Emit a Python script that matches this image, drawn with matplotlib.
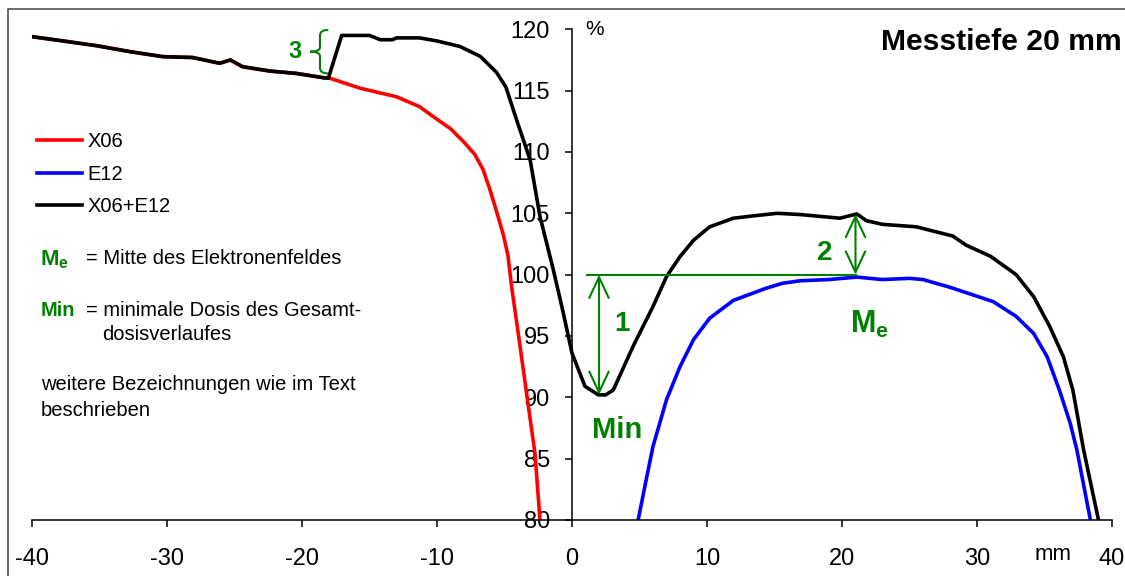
import matplotlib
matplotlib.use("Agg")
import matplotlib.pyplot as plt
from matplotlib.path import Path
from matplotlib.patches import PathPatch
from matplotlib.lines import Line2D

plt.rcParams['font.family'] = ['Liberation Sans', 'DejaVu Sans']
plt.rcParams['axes.unicode_minus'] = False
plt.rcParams['mathtext.fontset'] = 'custom'
plt.rcParams['mathtext.rm'] = 'Liberation Sans'
plt.rcParams['mathtext.bf'] = 'Liberation Sans:bold'

# Daten
x06_x = [-40, -37.7, -35.2, -32.7, -30.3, -28.1, -26.1, -25.3, -24.4, -22.4, -20.4, -18.4,
         -17.9, -15.7, -13.0, -11.3, -10.3, -9.0, -8.0, -7.2, -6.6, -6.1, -5.6, -5.1, -4.75,
         -4.47, -3.98, -3.36, -2.74, -2.37, -2.2]
x06_y = [119.4, 119.05, 118.66, 118.17, 117.77, 117.7, 117.23, 117.5, 116.95, 116.6, 116.4, 116.05,
         116.0, 115.2, 114.5, 113.7, 112.9, 111.9, 110.8, 109.8, 108.6, 107.0, 105.2, 103.3, 101.6,
         99.0, 95.2, 90.3, 85.4, 80.0, 78.0]

e12_x = [4.6, 4.9, 5.5, 6.0, 7.0, 8.0, 9.0, 10.2, 11.95, 14.4, 15.6, 16.9, 19.0, 21.1, 23.0,
         25.0, 26.0, 28.0, 29.7, 31.2, 32.9, 34.2, 35.2, 36.1, 36.9, 37.4, 38.4, 38.7]
e12_y = [78.0, 80.0, 83.3, 86.0, 89.8, 92.5, 94.7, 96.45, 97.9, 98.9, 99.3, 99.5, 99.6, 99.8, 99.6,
         99.7, 99.6, 98.97, 98.35, 97.8, 96.6, 95.2, 93.3, 90.6, 87.9, 85.7, 80.0, 78.0]

sum_x = [-40, -37.7, -35.2, -32.7, -30.3, -28.1, -26.1, -25.3, -24.4, -22.4, -20.4, -18.4, -18.05,
         -17.06, -15.0, -14.2, -13.3, -13.0, -11.3, -10.0, -8.3, -6.8, -5.6, -4.9, -4.1, -3.1,
         -2.37, -1.38, -0.64, 0.0, 0.96, 1.95, 2.5, 3.06, 4.5, 6.0, 7.0, 8.0, 9.0, 10.2, 11.95,
         13.5, 15.2, 16.9, 19.85, 21.1, 21.8, 23.0, 25.5, 27.3, 28.2, 29.2, 31.0, 32.9, 34.2,
         35.4, 36.4, 37.1, 37.9, 39.0, 39.3]
sum_y = [119.4, 119.05, 118.66, 118.17, 117.77, 117.7, 117.23, 117.5, 116.95, 116.6, 116.4, 116.05, 116.0,
         119.5, 119.5, 119.15, 119.15, 119.3, 119.3, 119.05, 118.6, 117.8, 116.5, 115.3, 112.6, 109.35,
         104.73, 100.38, 96.85, 93.6, 90.9, 90.2, 90.2, 90.6, 94.1, 97.4, 99.84, 101.47, 102.8, 103.9, 104.6,
         104.8, 105.0, 104.9, 104.6, 104.95, 104.4, 104.1, 103.9, 103.4, 103.15, 102.4, 101.5, 100.0, 98.2,
         95.75, 93.3, 90.6, 85.7, 80.0, 78.0]

x_ticks = [-40, -30, -20, -10, 0, 10, 20, 30, 40]
y_ticks = [80, 85, 90, 95, 100, 105, 110, 115, 120]

# Markierungen
ref_level = 100
min_x, min_y = 2.0, 90.2
me_x, me_y = 21.0, 104.95
step_x, step_lo, step_hi = -18.05, 116.4, 119.95

green = '#008000'

fig = plt.figure(figsize=(11.25, 5.76), dpi=100)
ax = fig.add_axes([32 / 1125, 56 / 576, 1080 / 1125, 490.7 / 576])

ax.plot(x06_x, x06_y, color='#ff0000', lw=2.6, label='X06')
ax.plot(e12_x, e12_y, color='#0000ff', lw=2.6, label='E12')
ax.plot(sum_x, sum_y, color='black', lw=2.6, label='X06+E12')

ax.set_xlim(-40, 40)
ax.set_ylim(80, 120)
ax.set_xticks(x_ticks)
ax.set_yticks(y_ticks)
ax.spines['top'].set_visible(False)
ax.spines['right'].set_visible(False)
ax.spines['left'].set_position(('data', 0))
ax.spines['left'].set_linewidth(1.1)
ax.spines['bottom'].set_linewidth(1.1)
ax.tick_params(axis='x', direction='out', length=5, width=1.1, pad=15, labelsize=17)
ax.tick_params(axis='y', direction='out', length=5, width=1.1, pad=11, labelsize=17)

# gruene Markierungen
ax.plot([1.1, me_x], [ref_level, ref_level], color=green, lw=1.5)
arrow = dict(arrowstyle='<->,head_length=0.75,head_width=0.35', color=green, lw=1.5,
             shrinkA=0, shrinkB=0, mutation_scale=20)
ax.annotate('', xy=(min_x, min_y), xytext=(min_x, ref_level), arrowprops=arrow)
ax.annotate('', xy=(me_x, me_y), xytext=(me_x, ref_level), arrowprops=arrow)

# geschweifte Klammer bei "3"
xv = step_x - 0.62
xt = step_x - 1.35
ym = (step_lo + step_hi) / 2
verts = [(step_x, step_hi), (xv, step_hi), (xv, step_hi - 0.45), (xv, ym + 0.35),
         (xv, ym), (xt, ym), (xv, ym), (xv, ym - 0.35), (xv, step_lo + 0.45),
         (xv, step_lo), (step_x, step_lo)]
codes = [Path.MOVETO, Path.CURVE3, Path.CURVE3, Path.LINETO, Path.CURVE3, Path.CURVE3,
         Path.CURVE3, Path.CURVE3, Path.LINETO, Path.CURVE3, Path.CURVE3]
ax.add_patch(PathPatch(Path(verts, codes), fill=False, edgecolor=green, lw=1.5))

ax.text(-20.5, ym, '3', color=green, fontsize=17, fontweight='bold', ha='center', va='center')
ax.text(3.7, 96.0, '1', color=green, fontsize=20, fontweight='bold', ha='center', va='center')
ax.text(18.75, 101.8, '2', color=green, fontsize=20, fontweight='bold', ha='center', va='center')
ax.text(3.35, 87.3, 'Min', color=green, fontsize=21, fontweight='bold', ha='center', va='center')
ax.text(20.6, 95.25, r'$\mathbf{M_e}$', color=green, fontsize=22, ha='left', va='baseline')

ax.text(1.0, 119.95, '%', fontsize=15, ha='left', va='center')
ax.text(35.6, 80, 'mm', fontsize=16, ha='center', va='center',
        transform=ax.transData + matplotlib.transforms.ScaledTranslation(0, -35 / 100, fig.dpi_scale_trans))

leg = ax.legend(loc='upper left', bbox_to_anchor=(37 / 1125, 1 - 132 / 576),
                bbox_transform=fig.transFigure, frameon=False, fontsize=14.5,
                handlelength=2.25, handletextpad=0.25, labelspacing=0.68,
                borderpad=0, borderaxespad=0)

def fx(px):
    return px / 1125

def fy(py):
    return 1 - py / 576

fig.text(fx(881), fy(42), 'Messtiefe 20 mm', fontsize=21.7, fontweight='bold', ha='left', va='center')
fig.text(fx(40), fy(265), r'$\mathbf{M_e}$', color=green, fontsize=16, ha='left', va='baseline')
fig.text(fx(86), fy(259), '= Mitte des Elektronenfeldes', fontsize=14.5, ha='left', va='center')
fig.text(fx(41), fy(310), 'Min', color=green, fontsize=14.5, fontweight='bold', ha='left', va='center')
fig.text(fx(86), fy(310), '= minimale Dosis des Gesamt-', fontsize=14.5, ha='left', va='center')
fig.text(fx(102), fy(335), 'dosisverlaufes', fontsize=14.5, ha='left', va='center')
fig.text(fx(41), fy(385), 'weitere Bezeichnungen wie im Text', fontsize=14.5, ha='left', va='center')
fig.text(fx(41), fy(411), 'beschrieben', fontsize=14.5, ha='left', va='center')

# Rahmen des Diagrammbereichs
fig.add_artist(Line2D([fx(8), fx(8), fx(1125)], [0, fy(9), fy(9)], color='#505050', lw=1.2,
                      transform=fig.transFigure))

fig.savefig('out.png', dpi=100)
